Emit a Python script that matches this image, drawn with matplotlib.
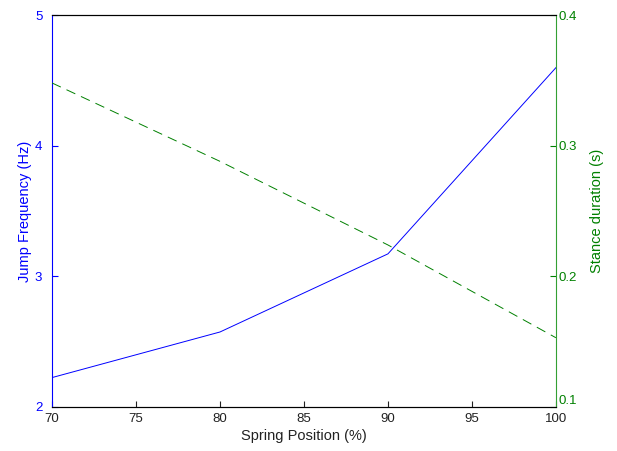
import matplotlib
matplotlib.use('Agg')
from matplotlib import pyplot as plt

plt.rcParams['font.family'] = ['Liberation Sans', 'DejaVu Sans']
plt.rcParams['font.size'] = 9.5
plt.rcParams['lines.scale_dashes'] = False

spring_pos = [70, 80, 90, 100]
jump_freq = [2.225, 2.574, 3.172, 4.597]
stance_dur = [0.348, 0.288, 0.224, 0.153]

blue = (0, 0, 1)
green = (0, 0.5, 0)

fig = plt.figure(figsize=(6.17, 4.51), dpi=100)
ax = fig.add_axes([0.0843, 0.0976, 0.8167, 0.8691])
ax2 = ax.twinx()

ax.plot(spring_pos, jump_freq, color=blue, lw=0.7)
ax2.plot(spring_pos, stance_dur, color=green, lw=0.7, linestyle=(0, (7, 4.5)))

ax.set_xlim(70, 100)
ax.set_ylim(2, 5)
ax.set_xticks([70, 75, 80, 85, 90, 95, 100])
ax.set_yticks([2, 3, 4, 5])
ax2.set_ylim(0.1, 0.4)
ax2.set_yticks([0.1, 0.2, 0.3, 0.4])
ax2.set_yticklabels(['0.1', '0.2', '0.3', '0.4'])

ax.set_xlabel('Spring Position (%)', color='#222222', labelpad=3, fontsize=10.5)
ax.set_ylabel('Jump Frequency (Hz)', color=blue, labelpad=2, fontsize=10.5)
ax2.set_ylabel('Stance duration (s)', color=green, labelpad=9, fontsize=10.5)

# matlab-ish box: inward ticks, coloured y spines
for a in (ax, ax2):
    for s in a.spines.values():
        s.set_linewidth(0.8)
ax.spines['left'].set_color(blue)
ax.spines['right'].set_visible(False)
ax2.spines['left'].set_visible(False)
ax2.spines['right'].set_color('#33a033')
ax.spines['top'].set_color('black')
ax.spines['bottom'].set_color('#222222')

ax.tick_params(axis='x', direction='in', length=4, colors='#222222', pad=4)
ax.tick_params(axis='y', direction='in', length=4, colors=blue, pad=7)
ax2.tick_params(axis='y', direction='in', length=4, colors=green, pad=2)

# nudge the lowest right-hand label up so it clears the "100" below it
ax2.get_yticklabels()[0].set_verticalalignment('bottom')

plt.savefig('out.png', dpi=100)
